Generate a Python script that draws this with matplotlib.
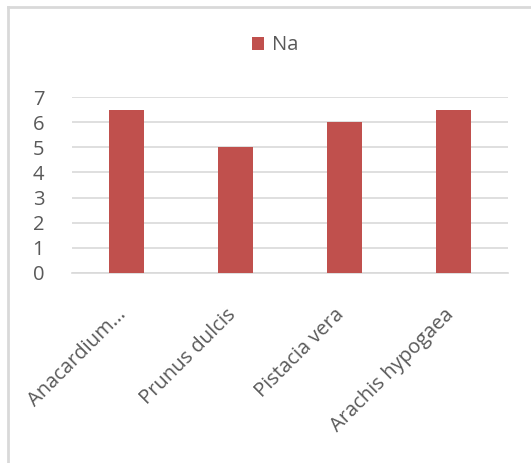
import matplotlib
matplotlib.use('Agg')
import matplotlib.pyplot as plt
import matplotlib.transforms as mtransforms
from matplotlib.lines import Line2D
import numpy as np

species = ['Anacardium...', 'Prunus dulcis', 'Pistacia vera', 'Arachis hypogaea']
na_values = [6.5, 5, 6, 6.5]
y_ticks = [0, 1, 2, 3, 4, 5, 6, 7]

plt.rcParams['font.family'] = ['Open Sans', 'DejaVu Sans']
text_color = '#595959'
bar_color = '#c0504d'
grid_color = '#d9d9d9'

fig = plt.figure(figsize=(5.31, 4.63), dpi=100)
ax = fig.add_axes([0.1356, 0.411, 0.8211, 0.379])

x = np.arange(len(species))
ax.bar(x, na_values, width=0.32, color=bar_color, label='Na', zorder=3)

ax.set_xlim(-0.5, len(species) - 0.5)
ax.set_ylim(0, 7)
ax.set_yticks(y_ticks)
ax.set_yticklabels([str(t) for t in y_ticks], fontsize=14.5, color=text_color)
ax.set_xticks(x)
ax.set_xticklabels(species, rotation=45, ha='right', va='top', rotation_mode='anchor',
                   fontsize=14.5, color=text_color)
ax.tick_params(axis='both', length=0)
ax.tick_params(axis='y', pad=20)
ax.tick_params(axis='x', pad=23)
# nudge rotated labels so their ends sit under the bars
shift = mtransforms.ScaledTranslation(-10 / 100, 0, fig.dpi_scale_trans)
for lbl in ax.get_xticklabels():
    lbl.set_transform(lbl.get_transform() + shift)
ax.grid(axis='y', color=grid_color, linewidth=1.2, zorder=0)
for side in ['top', 'right', 'left']:
    ax.spines[side].set_visible(False)
ax.spines['bottom'].set_color(grid_color)
ax.spines['bottom'].set_linewidth(1.2)

fig.legend(loc='center', bbox_to_anchor=(0.518, 0.902), frameon=False,
           fontsize=14.5, handlelength=0.6, handleheight=0.6, handletextpad=0.4,
           labelcolor=text_color)

# chart frame, only top and left edges show
fig.add_artist(Line2D([8 / 531, 8 / 531], [0, 1 - 7 / 463], transform=fig.transFigure,
                      color=grid_color, linewidth=2))
fig.add_artist(Line2D([8 / 531, 1], [1 - 7 / 463, 1 - 7 / 463], transform=fig.transFigure,
                      color=grid_color, linewidth=2))

fig.savefig('out.png', dpi=100)
